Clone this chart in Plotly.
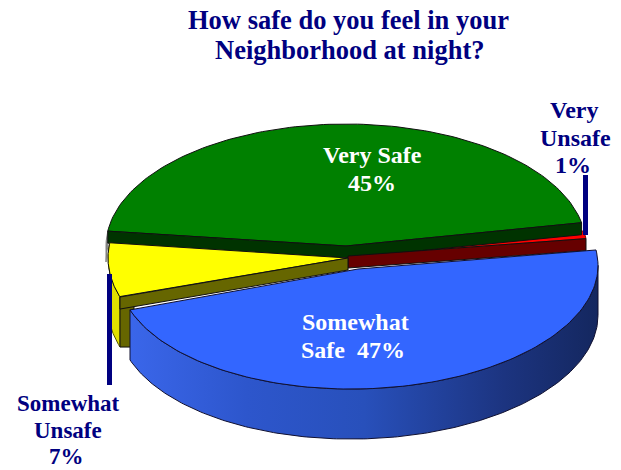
import numpy as np
import plotly.graph_objects as go

# --- data ---
labels = ["Very Safe", "Very Unsafe", "Somewhat Safe", "Somewhat Unsafe"]
values = [45, 1, 47, 7]

START = 173.0          # angle where first slice starts, going clockwise
GEOM = {               # cx, cy, a, b, tilt of each slice's top ellipse (pixel space)
    "Very Safe": (346, 246, 240, 122, 0.0),
    "Very Unsafe": (348, 256, 240, 135, 0.0),
    "Somewhat Safe": (358, 269, 240, 120, 0.015),
    "Somewhat Unsafe": (348, 258, 240, 125, 0.0),
}
INNER = 12
OUTER = 50
NAVY = "#000080"

total = sum(values)
ang = {}
cur = START
for l, v in zip(labels, values):
    nxt = cur - 360.0 * v / total
    ang[l] = (cur, nxt)
    cur = nxt


def arc(label, t0=None, t1=None, n=120):
    cx, cy, a, b, k = GEOM[label]
    s, e = ang[label]
    t0 = s if t0 is None else t0
    t1 = e if t1 is None else t1
    t = np.radians(np.linspace(t0, t1, n))
    x = cx + a * np.cos(t)
    return x, cy - b * np.sin(t) - k * (x - cx)


def close_wedge(label):
    x, y = arc(label)
    cx, cy = GEOM[label][:2]
    return np.r_[cx, x, cx], np.r_[cy, y, cy]


def wall_between(x, y, d):
    return np.r_[x, x[::-1], x[0]], np.r_[y, y[::-1] + d, y[0]]


fig = go.Figure()


def poly(x, y, color, line="#101010", w=1, **kw):
    fig.add_trace(go.Scatter(x=x, y=y, mode="lines", fill="toself", fillcolor=color,
                             line=dict(color=line, width=w), hoverinfo="skip", **kw))


# Red top
x, y = close_wedge("Very Unsafe")
poly(x, y, "#ff0000", line="#800000")

# Green outer sliver on left
x, y = arc("Very Safe", 173, 180, 12)
wx, wy = wall_between(x, y, 16)
poly(wx, wy, "#808080", line="#808080")

# Green top
x, y = close_wedge("Very Safe")
poly(x, y, "#008000")

# Green inner wall (both edges)
gx, gy = close_wedge("Very Safe")
ex = np.r_[gx[1], gx[0], gx[-2]]
ey = np.r_[gy[1], gy[0], gy[-2]]
wx, wy = wall_between(ex, ey, INNER)
poly(wx, wy, "#003300")

# Red wall
rx, ry = close_wedge("Very Unsafe")
ex = np.r_[rx[0], rx[-2]]
ey = np.r_[ry[0], ry[-2]]
wx, wy = wall_between(ex, ey, INNER)
poly(wx, wy, "#660000")

# Yellow outer wall
x, y = arc("Somewhat Unsafe")
wx, wy = wall_between(x, y, OUTER)
poly(wx, wy, "#e2e000", line="#555500")

# Yellow top
x, y = close_wedge("Somewhat Unsafe")
poly(x, y, "#ffff00")

# Olive inner wall (front edge of the yellow slice), taller at its outer end
yx, yy = close_wedge("Somewhat Unsafe")
ex = np.r_[yx[0], yx[1]]
ey = np.r_[yy[0], yy[1]]
wx, wy = wall_between(ex, ey, INNER)
poly(np.r_[yx[1], yx[1] + 14, yx[1] + 14, yx[1], yx[1]],
     np.r_[yy[1], yy[1], yy[1] + OUTER, yy[1] + OUTER, yy[1]], "#666600")
poly(wx, wy, "#666600")

# Blue outer wall with gradient
s, e = ang["Somewhat Safe"]
x, y = arc("Somewhat Safe", e, 0, 200)
wx, wy = wall_between(x, y, OUTER)
fig.add_trace(go.Scatter(
    x=wx, y=wy, mode="lines", fill="toself",
    fillgradient=dict(type="horizontal", colorscale=[
        [0.0, "#3a66ea"], [0.25, "#2d56cc"], [0.5, "#2850bb"], [0.8, "#1c3480"], [1.0, "#14275f"]]),
    line=dict(color="#101030", width=1), hoverinfo="skip"))

# Blue top
x, y = close_wedge("Somewhat Safe")
poly(x, y, "#3366ff", line="#101030")

# Leader lines
for lx, ly in [([585.5, 585.5], [175, 235]), ([109.5, 109.5], [274, 385])]:
    fig.add_trace(go.Scatter(x=lx, y=ly, mode="lines", line=dict(color=NAVY, width=5), hoverinfo="skip"))

annots = [
    ("How safe do you feel in your", 348, 20, NAVY, 26.5),
    ("Neighborhood at night?", 349, 50, NAVY, 26.5),
    ("Very Safe", 372, 155, "white", 24), ("45%", 372, 183, "white", 24),
    ("Somewhat", 355, 322, "white", 24), ("Safe  47%", 353, 350, "white", 24),
    ("Very", 574, 110, NAVY, 24), ("Unsafe", 575, 138, NAVY, 24), ("1%", 573, 165, NAVY, 24),
    ("Somewhat", 68, 403.5, NAVY, 23), ("Unsafe", 68, 430.5, NAVY, 23), ("7%", 66, 456.8, NAVY, 23),
]
for t, ax, ay, c, fs in annots:
    fig.add_annotation(x=ax, y=ay, text=f"<b>{t}</b>", showarrow=False, xref="x", yref="y",
                       font=dict(family="Liberation Serif", size=fs, color=c))

fig.update_layout(
    width=621, height=470, margin=dict(l=0, r=0, t=0, b=0), showlegend=False,
    paper_bgcolor="white", plot_bgcolor="white",
    xaxis=dict(range=[0, 621], visible=False, fixedrange=True),
    yaxis=dict(range=[470, 0], visible=False, fixedrange=True),
)
fig.write_html("out.html", config={"displayModeBar": False},
               post_script="document.body.style.margin='0';")
